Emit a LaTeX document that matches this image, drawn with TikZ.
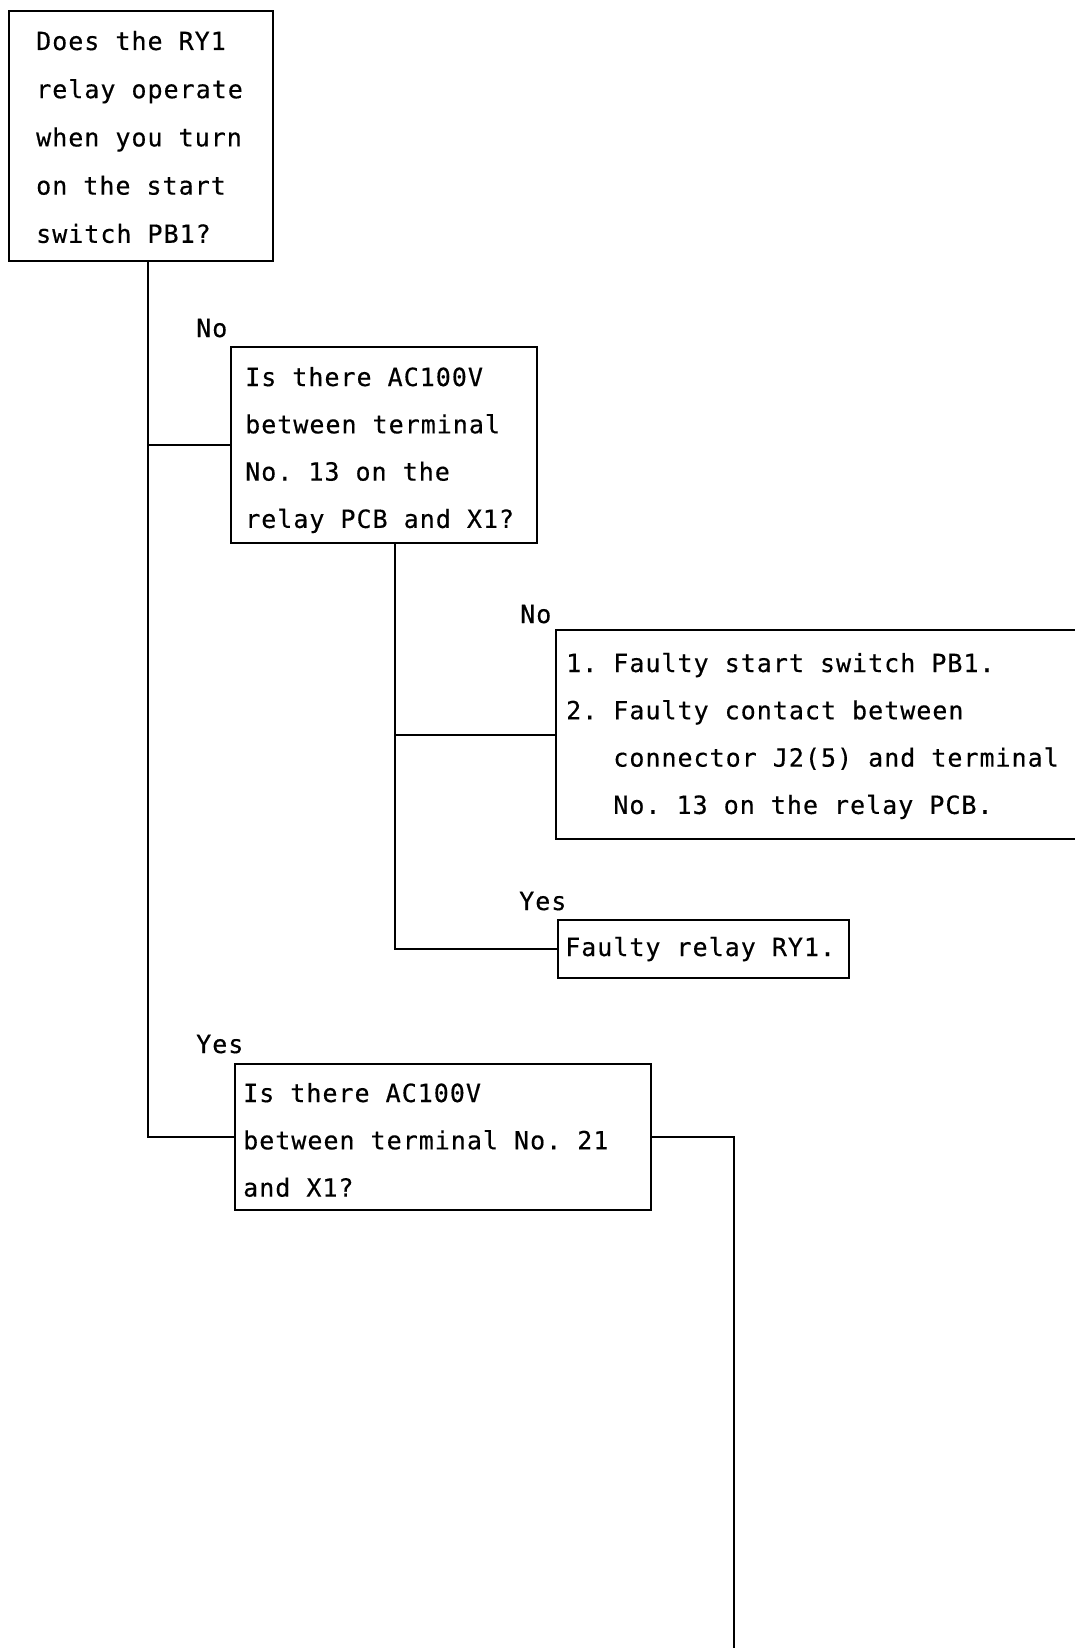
\documentclass[tikz,border=0pt]{standalone}
\usepackage{fontspec}
\newfontfamily\typefont[LetterSpace=4,FakeBold=0.4]{DejaVu Sans Mono}
\frenchspacing
% stacked lines with the first baseline as reference point
\newcommand\rows[1]{\begin{tabular}[t]{@{}l@{}}#1\end{tabular}}
\begin{document}
\begin{tikzpicture}[x=1pt,y=-1pt,
  wire/.style={line width=2.4pt},
  box/.style={draw, line width=2.4pt, inner sep=0pt, anchor=north west},
  txt/.style={font=\typefont\frenchspacing\fontsize{25}{#1}\selectfont, inner sep=0pt, anchor=base west},
  txt/.default=47.3]
\fill[white] (0,0) rectangle (1075,1648);
\useasboundingbox (0,0) rectangle (1075,1648);
\clip (0,0) rectangle (1075,1648);

% boxes
\node[box, minimum width=264pt, minimum height=250pt] (b1) at (8,10) {};
\node[box, minimum width=306pt, minimum height=196pt] (b2) at (230,346) {};
\node[box, minimum width=545pt, minimum height=209pt] (b3) at (555,629) {};
\node[box, minimum width=291pt, minimum height=58pt] (b5) at (557,919) {};
\node[box, minimum width=416pt, minimum height=146pt] (b4) at (234,1063) {};

% box texts
\node[txt=48.2] (t1) at (36,50) {\rows{Does the RY1\\relay operate\\when you turn\\on the start\\switch PB1?}};
\node[txt] (t2) at (245,386) {\rows{Is there AC100V\\between terminal\\No. 13 on the\\relay PCB and X1?}};
\node[txt] (t3) at (566,672) {\rows{1. Faulty start switch PB1.\\2. Faulty contact between\\\phantom{2. }connector J2(5) and terminal\\\phantom{2. }No. 13 on the relay PCB.}};
\node[txt] (t5) at (565,956) {Faulty relay RY1.};
\node[txt] (t4) at (243,1102) {\rows{Is there AC100V\\between terminal No. 21\\and X1?}};

% branch labels
\node[txt] (no1) at (196,337) {No};
\node[txt] (no2) at (520,623) {No};
\node[txt] (yes1) at (519,910) {Yes};
\node[txt] (yes2) at (196,1053) {Yes};

% connectors
\coordinate (L) at (148,0);
\coordinate (R) at (395,0);
\coordinate (tail) at (734,1660);
\draw[wire] (b1.south -| L) -- (L |- b4.west) -- (b4.west);
\draw[wire] (L |- b2.west) -- (b2.west);
\draw[wire] (b2.south -| R) -- (R |- b5.west) -- (b5.west);
\draw[wire] (R |- b3.west) -- (b3.west);
\draw[wire] (b4.east) -| (tail);
\end{tikzpicture}
\end{document}
